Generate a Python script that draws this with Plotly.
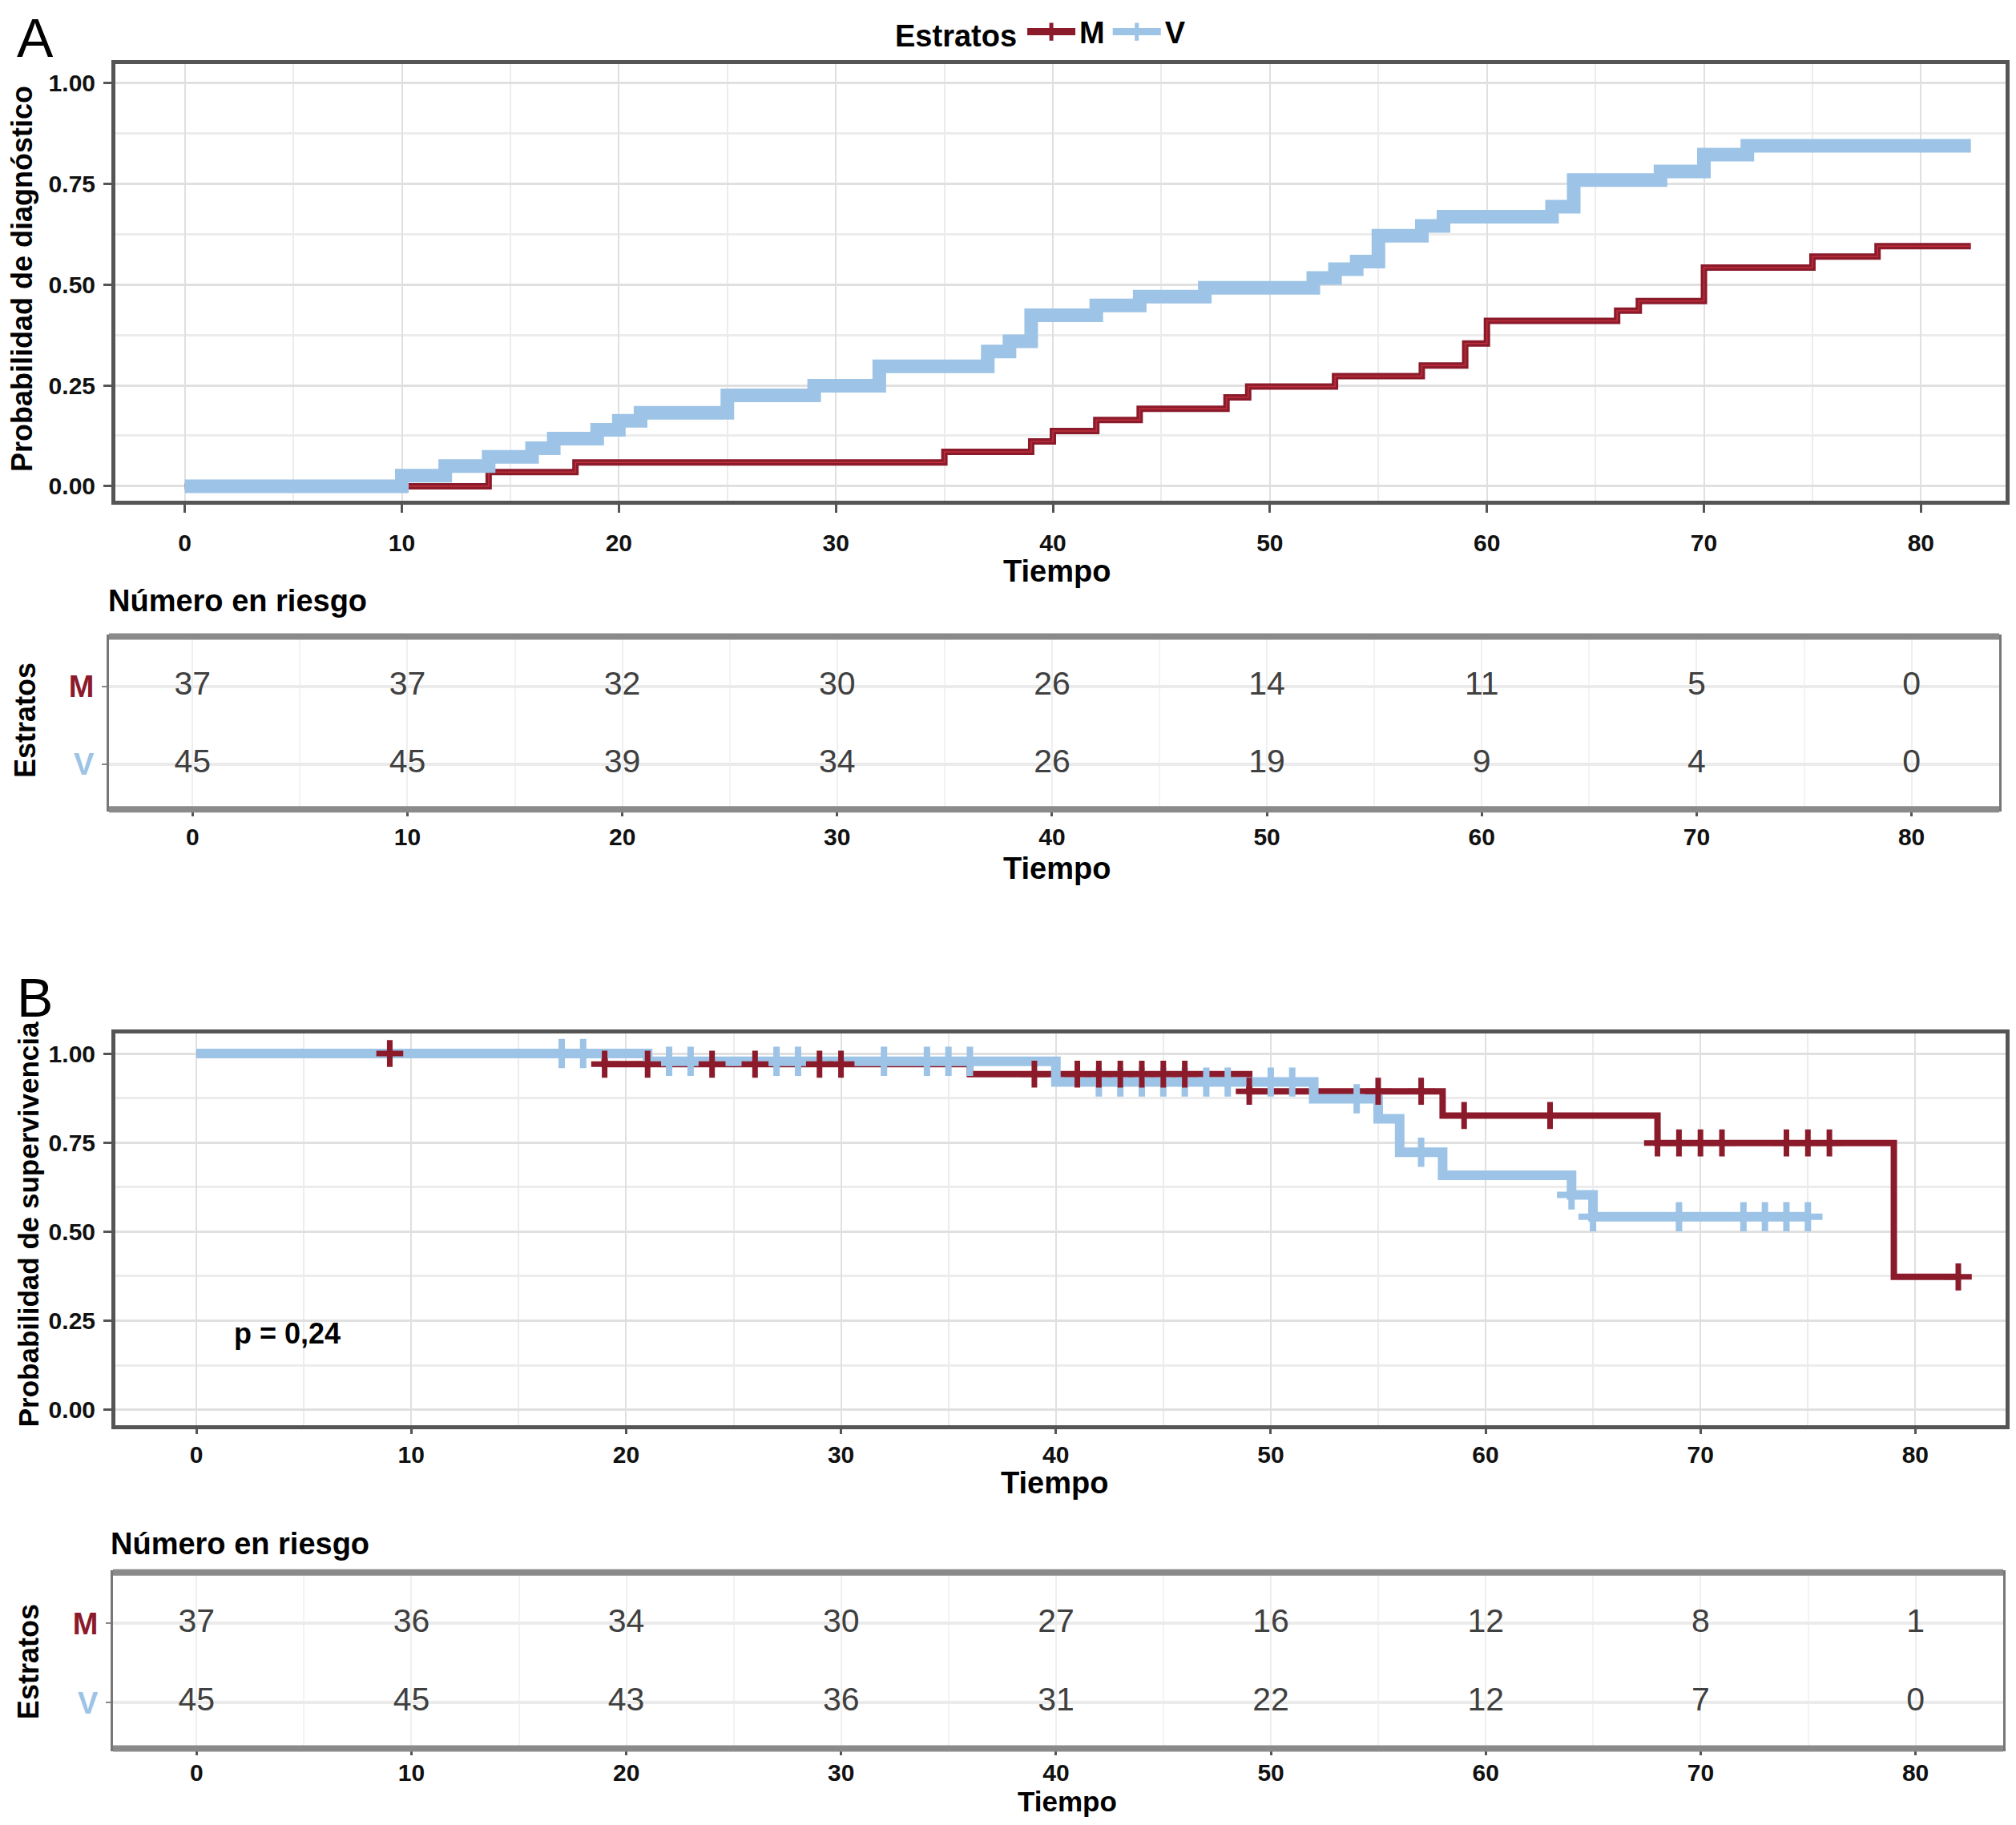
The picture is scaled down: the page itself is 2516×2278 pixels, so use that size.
import plotly.graph_objects as go

# ---------------- DATA ----------------
strata = ["M", "V"]
colors = {"M": "#8B1A2B", "V": "#9DC3E6"}

# Panel A: cumulative probability of diagnosis (step functions)
a_m_times = [0, 14, 18, 35, 39, 40, 42, 44, 48, 49, 53, 57, 59, 60, 66, 67, 70, 75, 78]
a_m_vals = [0, 0.035, 0.059, 0.085, 0.111, 0.137, 0.164, 0.192, 0.22, 0.247, 0.273,
            0.299, 0.354, 0.41, 0.435, 0.459, 0.542, 0.569, 0.595]
a_m_end = 82.3
a_v_times = [0, 10, 12, 14, 16, 17, 19, 20, 21, 25, 29, 32, 37, 38, 39, 42, 44, 47,
             52, 53, 54, 55, 57, 58, 63, 64, 68, 70, 72]
a_v_vals = [0, 0.026, 0.05, 0.073, 0.094, 0.118, 0.14, 0.162, 0.182, 0.225, 0.249,
            0.297, 0.334, 0.359, 0.424, 0.448, 0.47, 0.492, 0.516, 0.538, 0.557,
            0.621, 0.645, 0.668, 0.693, 0.759, 0.78, 0.822, 0.844]
a_v_end = 82.3

risk_times = [0, 10, 20, 30, 40, 50, 60, 70, 80]
a_risk_m = [37, 37, 32, 30, 26, 14, 11, 5, 0]
a_risk_v = [45, 45, 39, 34, 26, 19, 9, 4, 0]

# Panel B: survival (Kaplan-Meier)
b_m_times = [0, 19, 36, 49, 58, 68, 79]
b_m_vals = [1.0, 0.970, 0.942, 0.894, 0.826, 0.749, 0.373]
b_m_end = 82
b_m_censor = [9, 19, 21, 24, 26, 29, 30, 39, 41, 42, 43, 44, 45, 46, 49, 55, 57,
              59, 63, 68, 69, 70, 71, 74, 75, 76, 82]
b_v_times = [0, 21, 40, 52, 55, 56, 58, 64, 65]
b_v_vals = [1.0, 0.978, 0.92, 0.873, 0.817, 0.723, 0.658, 0.603, 0.542]
b_v_end = 75
b_v_censor = [17, 18, 22, 23, 27, 28, 32, 34, 35, 36, 42, 43, 44, 45, 46, 47, 48,
              50, 51, 54, 57, 64, 65, 69, 72, 73, 74, 75]

b_risk_m = [37, 36, 34, 30, 27, 16, 12, 8, 1]
b_risk_v = [45, 45, 43, 36, 31, 22, 12, 7, 0]

p_text = "p = 0,24"

# ---------------- HELPERS ----------------
def step_xy(times, vals, end):
    return list(times) + [end], list(vals) + [vals[-1]]

def step_at(times, vals, t):
    v = vals[0]
    for ti, vi in zip(times, vals):
        if ti <= t:
            v = vi
    return v

FONT = "Liberation Sans, Arial, Helvetica, sans-serif"
OFF = 8  # browser body margin
W, H = 2516 - 2 * OFF, 2278 - 2 * OFF

def fx(X):
    return (X - OFF) / W
def fy(Y):
    return 1 - (Y - OFF) / H
def px_x(a, b):
    return [fx(a), fx(b)]
def px_y(top, bottom):
    return [fy(bottom), fy(top)]

fig = go.Figure()

# ---------------- PANEL A ----------------
x, y = step_xy(a_m_times, a_m_vals, a_m_end)
fig.add_trace(go.Scatter(x=x, y=y, mode="lines", line=dict(color=colors["M"], width=8, shape="hv"),
                         showlegend=False, xaxis="x", yaxis="y"))
fig.add_trace(go.Scatter(x=x, y=y, mode="lines", line=dict(color="#C0303C", width=1.5, shape="hv"),
                         showlegend=False, xaxis="x", yaxis="y"))
x, y = step_xy(a_v_times, a_v_vals, a_v_end)
fig.add_trace(go.Scatter(x=x, y=y, mode="lines", line=dict(color=colors["V"], width=17, shape="hv"),
                         showlegend=False, xaxis="x", yaxis="y"))

# ---------------- PANEL B ----------------
x, y = step_xy(b_m_times, b_m_vals, b_m_end)
fig.add_trace(go.Scatter(x=x, y=y, mode="lines", line=dict(color=colors["M"], width=8, shape="hv"),
                         showlegend=False, xaxis="x3", yaxis="y3"))
x, y = step_xy(b_v_times, b_v_vals, b_v_end)
fig.add_trace(go.Scatter(x=x, y=y, mode="lines", line=dict(color=colors["V"], width=12, shape="hv"),
                         showlegend=False, xaxis="x3", yaxis="y3"))
fig.add_trace(go.Scatter(x=b_v_censor, y=[step_at(b_v_times, b_v_vals, t) for t in b_v_censor],
                         mode="markers",
                         marker=dict(symbol="cross-thin", size=26, line=dict(color=colors["V"], width=8)),
                         showlegend=False, xaxis="x3", yaxis="y3"))
fig.add_trace(go.Scatter(x=b_m_censor, y=[step_at(b_m_times, b_m_vals, t) for t in b_m_censor],
                         mode="markers",
                         marker=dict(symbol="cross-thin", size=24, line=dict(color=colors["M"], width=7)),
                         showlegend=False, xaxis="x3", yaxis="y3"))

# legend entries
for s in strata:
    fig.add_trace(go.Scatter(x=[None], y=[None], mode="lines+markers", name="<b>%s</b>" % s,
                             line=dict(color=colors[s], width=9),
                             marker=dict(symbol="cross-thin", size=28, line=dict(color=colors[s], width=9)),
                             xaxis="x", yaxis="y"))

# ---------------- RISK TABLES ----------------
for xa, ya, rm, rv in (("x2", "y2", a_risk_m, a_risk_v), ("x4", "y4", b_risk_m, b_risk_v)):
    fig.add_trace(go.Scatter(x=risk_times, y=[1] * len(risk_times), mode="text",
                             text=[str(v) for v in rm], textfont=dict(size=41, color="#404040", family=FONT),
                             showlegend=False, xaxis=xa, yaxis=ya))
    fig.add_trace(go.Scatter(x=risk_times, y=[0] * len(risk_times), mode="text",
                             text=[str(v) for v in rv], textfont=dict(size=41, color="#404040", family=FONT),
                             showlegend=False, xaxis=xa, yaxis=ya))

# ---------------- AXES ----------------
grid_major = "#E0E0E0"
grid_minor = "#ECECEC"
frame = "#555555"
tickf = dict(size=30, color="#111", family=FONT, weight="bold")

def xax(domain, rng, anchor, ticklen=10, standoff=12):
    return dict(domain=domain, range=rng, anchor=anchor, tickvals=risk_times, ticks="outside",
                ticklen=ticklen, tickwidth=3, tickcolor=frame, tickfont=tickf, ticklabelstandoff=standoff,
                showgrid=True, gridcolor=grid_major, gridwidth=2,
                minor=dict(dtick=5, tick0=0, showgrid=True, gridcolor=grid_minor, gridwidth=2),
                showline=True, linecolor=frame, linewidth=5, mirror=True, zeroline=False)

def yax_prob(domain, rng, anchor):
    return dict(domain=domain, range=rng, anchor=anchor, tickvals=[0, 0.25, 0.5, 0.75, 1.0],
                ticktext=["0.00", "0.25", "0.50", "0.75", "1.00"], ticks="outside",
                ticklen=10, tickwidth=3, tickcolor=frame, tickfont=tickf, ticklabelstandoff=4,
                showgrid=True, gridcolor=grid_major, gridwidth=3,
                minor=dict(tickvals=[0.125, 0.375, 0.625, 0.875], showgrid=True,
                           gridcolor=grid_minor, gridwidth=3),
                showline=True, linecolor=frame, linewidth=5, mirror=True, zeroline=False)

def yax_risk(domain, anchor):
    return dict(domain=domain, range=[-0.58, 1.645], anchor=anchor, tickvals=[1, 0],
                ticktext=['<span style="color:%s">M</span>' % colors["M"],
                          '<span style="color:%s">V</span>' % colors["V"]],
                ticks="outside", ticklen=6, tickwidth=2, tickcolor="#888",
                tickfont=dict(size=38, family=FONT, weight="bold"), ticklabelstandoff=2,
                showgrid=True, gridcolor="#EBEBEB", gridwidth=4,
                showline=True, linecolor="#777", linewidth=3, mirror=True, zeroline=False)

dom_a_x, dom_a_y = px_x(144, 2503), px_y(67, 615)
dom_ra_x, dom_ra_y = px_x(136, 2495), px_y(786, 1003)
dom_b_x, dom_b_y = px_x(144, 2503), px_y(1284, 1776)
dom_rb_x, dom_rb_y = px_x(141, 2500), px_y(1961, 2182)

fig.update_layout(
    width=W, height=H, margin=dict(l=0, r=0, t=0, b=0),
    plot_bgcolor="white", paper_bgcolor="white",
    font=dict(family=FONT, color="black"),
    xaxis=xax(dom_a_x, [-3.2, 83.9], "y"),
    yaxis=yax_prob(dom_a_y, [-0.035, 1.047], "x"),
    xaxis2=xax(dom_ra_x, [-3.89, 84.08], "y2", ticklen=6, standoff=0),
    yaxis2=yax_risk(dom_ra_y, "x2"),
    xaxis3=xax(dom_b_x, [-3.77, 84.2], "y3", ticklen=6, standoff=0),
    yaxis3=yax_prob(dom_b_y, [-0.043, 1.057], "x3"),
    xaxis4=xax(dom_rb_x, [-3.89, 84.08], "y4", ticklen=5, standoff=-4),
    yaxis4=yax_risk(dom_rb_y, "x4"),
    legend=dict(orientation="h", x=fx(1300), xanchor="center", y=fy(27), yanchor="middle",
                title=dict(text="<b>Estratos</b>", font=dict(size=38)),
                font=dict(size=38), itemwidth=60, bgcolor="rgba(0,0,0,0)"),
)
# risk table: lighter vertical grids, thin side borders
for k in ("xaxis2", "xaxis4"):
    fig.layout[k].gridcolor = "#EFEFEF"
    fig.layout[k].minor.gridcolor = "#F3F3F3"
    fig.layout[k].linecolor = "#777"
    fig.layout[k].linewidth = 3

# thick shaded top/bottom borders of the risk tables
for dx, dy in ((dom_ra_x, dom_ra_y), (dom_rb_x, dom_rb_y)):
    for yy in dy:
        fig.add_shape(type="line", xref="paper", yref="paper", x0=dx[0], x1=dx[1], y0=yy, y1=yy,
                      line=dict(color="#8A8A8A", width=8), layer="above")

def ann(text, x, y, size, xanchor="center", angle=0, bold=True, xref="paper", yref="paper",
        yanchor="middle"):
    fig.add_annotation(text=("<b>%s</b>" % text) if bold else text, x=x, y=y, xref=xref, yref=yref,
                       xanchor=xanchor, yanchor=yanchor, textangle=angle, showarrow=False,
                       borderpad=0, font=dict(size=size, family=FONT, color="black"))

ann("A", fx(20), fy(34), 68, xanchor="left", bold=False)
ann("B", fx(20), fy(1239), 68, xanchor="left", bold=False)
ann("Probabilidad de diagnóstico", fx(27), fy(337), 36, angle=-90)
ann("Probabilidad de supervivencia", fx(35), fy(1524), 35, angle=-90)
ann("Tiempo", fx(1319), fy(704), 38)
ann("Tiempo", fx(1319), fy(1077), 38)
ann("Tiempo", fx(1316), fy(1849), 38)
ann("Tiempo", fx(1332), fy(2269), 35, yanchor="bottom")
ann("Número en riesgo", fx(134), fy(741), 38, xanchor="left")
ann("Número en riesgo", fx(137), fy(1925), 38, xanchor="left")
ann("Estratos", fx(32), fy(891), 36, angle=-90)
ann("Estratos", fx(35), fy(2073), 36, angle=-90)
ann(p_text, 1.7, 0.215, 36, xanchor="left", xref="x3", yref="y3")

fig.write_html("out.html")
